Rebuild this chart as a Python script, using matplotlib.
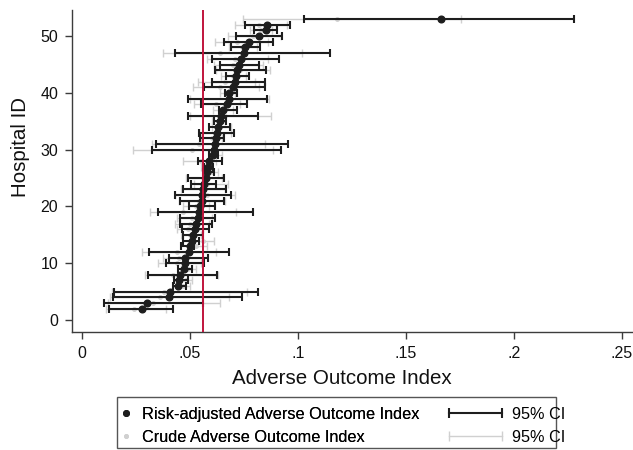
#!/usr/bin/env python3

"""
Hospital adverse outcome index: risk-adjusted vs crude, with 95% CI.
Writes out.png
"""

import numpy as np
import matplotlib

matplotlib.use("Agg")

import matplotlib.pyplot as plt
from matplotlib.lines import Line2D
from matplotlib.patches import Rectangle
from matplotlib.legend_handler import HandlerLine2D

# ============================================================
# Data
# ============================================================

hospital_id = np.arange(2, 54)

adj_index = [
    0.0276, 0.0302, 0.0403, 0.0407, 0.0446, 0.0449, 0.0454, 0.0472,
    0.0477, 0.0478, 0.0495, 0.0500, 0.0508, 0.0516, 0.0521, 0.0530,
    0.0537, 0.0542, 0.0547, 0.0554, 0.0557, 0.0562, 0.0567, 0.0572,
    0.0578, 0.0583, 0.0587, 0.0608, 0.0613, 0.0616, 0.0621, 0.0627,
    0.0632, 0.0640, 0.0644, 0.0655, 0.0671, 0.0679, 0.0682, 0.0697,
    0.0707, 0.0711, 0.0718, 0.0726, 0.0734, 0.0749, 0.0757, 0.0773,
    0.0819, 0.0854, 0.0857, 0.1660,
]
adj_lower = [
    0.0127, 0.0102, 0.0145, 0.0150, 0.0423, 0.0425, 0.0304, 0.0446,
    0.0389, 0.0404, 0.0312, 0.0460, 0.0470, 0.0470, 0.0461, 0.0454,
    0.0454, 0.0353, 0.0496, 0.0454, 0.0432, 0.0466, 0.0505, 0.0489,
    0.0559, 0.0563, 0.0537, 0.0590, 0.0326, 0.0343, 0.0546, 0.0543,
    0.0590, 0.0610, 0.0493, 0.0634, 0.0550, 0.0490, 0.0662, 0.0565,
    0.0603, 0.0668, 0.0614, 0.0638, 0.0600, 0.0430, 0.0688, 0.0658,
    0.0712, 0.0796, 0.0753, 0.1030,
]
adj_upper = [
    0.0423, 0.0562, 0.0739, 0.0816, 0.0480, 0.0490, 0.0623, 0.0508,
    0.0566, 0.0582, 0.0680, 0.0517, 0.0540, 0.0560, 0.0588, 0.0603,
    0.0617, 0.0790, 0.0616, 0.0656, 0.0690, 0.0666, 0.0620, 0.0656,
    0.0610, 0.0608, 0.0648, 0.0630, 0.0921, 0.0955, 0.0657, 0.0705,
    0.0685, 0.0665, 0.0815, 0.0719, 0.0766, 0.0855, 0.0720, 0.0848,
    0.0846, 0.0773, 0.0853, 0.0820, 0.0912, 0.1149, 0.0825, 0.0885,
    0.0928, 0.0901, 0.0963, 0.2278,
]

crude_index = [
    0.0240, 0.0330, 0.0360, 0.0380, 0.0470, 0.0480, 0.0420, 0.0490,
    0.0440, 0.0450, 0.0440, 0.0530, 0.0560, 0.0500, 0.0490, 0.0500,
    0.0510, 0.0470, 0.0530, 0.0540, 0.0580, 0.0550, 0.0580, 0.0560,
    0.0600, 0.0570, 0.0550, 0.0620, 0.0510, 0.0540, 0.0600, 0.0620,
    0.0640, 0.0630, 0.0660, 0.0650, 0.0620, 0.0690, 0.0670, 0.0640,
    0.0660, 0.0700, 0.0730, 0.0700, 0.0710, 0.0640, 0.0740, 0.0720,
    0.0790, 0.0830, 0.0820, 0.1180,
]
crude_lower = [
    0.0110, 0.0120, 0.0130, 0.0137, 0.0440, 0.0450, 0.0292, 0.0460,
    0.0350, 0.0376, 0.0280, 0.0490, 0.0510, 0.0460, 0.0440, 0.0430,
    0.0440, 0.0315, 0.0470, 0.0450, 0.0430, 0.0460, 0.0520, 0.0480,
    0.0570, 0.0550, 0.0470, 0.0600, 0.0236, 0.0323, 0.0550, 0.0540,
    0.0600, 0.0600, 0.0500, 0.0607, 0.0520, 0.0500, 0.0640, 0.0514,
    0.0537, 0.0645, 0.0620, 0.0610, 0.0580, 0.0373, 0.0680, 0.0616,
    0.0676, 0.0780, 0.0708, 0.0746,
]
crude_upper = [
    0.0390, 0.0639, 0.0680, 0.0762, 0.0500, 0.0510, 0.0630, 0.0530,
    0.0550, 0.0560, 0.0620, 0.0580, 0.0610, 0.0550, 0.0560, 0.0590,
    0.0600, 0.0713, 0.0590, 0.0660, 0.0708, 0.0660, 0.0676, 0.0650,
    0.0630, 0.0600, 0.0620, 0.0647, 0.0885, 0.0847, 0.0650, 0.0690,
    0.0690, 0.0660, 0.0873, 0.0700, 0.0730, 0.0866, 0.0710, 0.0820,
    0.0800, 0.0760, 0.0870, 0.0840, 0.0860, 0.1017, 0.0810, 0.0860,
    0.0920, 0.0880, 0.0950, 0.1755,
]

reference_value = 0.0562

x_ticks = [0, 0.05, 0.10, 0.15, 0.20, 0.25]
x_tick_labels = ["0", ".05", ".1", ".15", ".2", ".25"]
y_ticks = [0, 10, 20, 30, 40, 50]

# ============================================================
# Style
# ============================================================

BLACK = "#1e1e1e"
GREY = "#d0d0d0"
RED = "#c0143c"
AXIS = "#3c3c3c"

plt.rcParams["font.family"] = ["Liberation Sans", "DejaVu Sans"]

W, H = 633, 450


def px(x0, y0):
    """pixel (from top-left) -> figure fraction"""
    return x0 / W, 1 - y0 / H


def interval(mid, lo, hi):
    mid = np.asarray(mid)
    return [mid - np.asarray(lo), np.asarray(hi) - mid]


# ============================================================
# Figure
# ============================================================

fig = plt.figure(figsize=(W / 100, H / 100), dpi=100)

ax = fig.add_axes([
    72 / W,
    1 - 332 / H,
    (632 - 72) / W,
    (332 - 10) / H,
])

# crude estimates (behind)
ax.errorbar(
    crude_index,
    hospital_id,
    xerr=interval(crude_index, crude_lower, crude_upper),
    fmt="o",
    color=GREY,
    markersize=2.5,
    elinewidth=1.0,
    capsize=2.6,
    capthick=1.0,
    zorder=2,
)

# risk-adjusted estimates
ax.errorbar(
    adj_index,
    hospital_id,
    xerr=interval(adj_index, adj_lower, adj_upper),
    fmt="o",
    color=BLACK,
    markersize=4.8,
    elinewidth=1.5,
    capsize=2.6,
    capthick=1.5,
    zorder=4,
)

ax.axvline(reference_value, color=RED, linewidth=1.4, zorder=5)

ax.set_xlim(-0.0046, 0.2546)
ax.set_ylim(-2.1, 54.6)

ax.set_xticks(x_ticks)
ax.set_xticklabels(x_tick_labels)
ax.set_yticks(y_ticks)

ax.tick_params(
    direction="out",
    length=5,
    width=1.0,
    color=AXIS,
    labelsize=11.5,
    labelcolor="#111111",
    pad=5,
)

for side in ("top", "right"):
    ax.spines[side].set_visible(False)

for side in ("left", "bottom"):
    ax.spines[side].set_color(AXIS)
    ax.spines[side].set_linewidth(1.0)

ax.set_xlabel("Adverse Outcome Index", fontsize=14.8, color="#111111")
ax.set_ylabel("Hospital ID", fontsize=14.8, color="#111111")
ax.xaxis.set_label_coords(0.482, -0.115)
ax.yaxis.set_label_coords(-0.075, 0.575)

# ============================================================
# Legend
# ============================================================

point_handles = [
    Line2D([], [], linestyle="none", marker="o", markersize=4.0, color=BLACK),
    Line2D([], [], linestyle="none", marker="o", markersize=2.5, color=GREY),
]

ci_handles = [
    Line2D([], [], color=BLACK, linewidth=1.5, marker="|",
           markersize=7, markeredgewidth=1.5),
    Line2D([], [], color=GREY, linewidth=1.0, marker="|",
           markersize=7, markeredgewidth=1.0),
]

LEG_FS = 11.7

leg_points = fig.legend(
    point_handles,
    ["Risk-adjusted Adverse Outcome Index", "Crude Adverse Outcome Index"],
    loc="upper left",
    bbox_to_anchor=px(121, 407),
    frameon=False,
    fontsize=LEG_FS,
    handlelength=0.6,
    handletextpad=0.7,
    borderpad=0,
    borderaxespad=0,
    labelspacing=0.5,
)

ci_handler = HandlerLine2D(numpoints=2, marker_pad=0)

leg_ci = fig.legend(
    ci_handles,
    ["95% CI", "95% CI"],
    loc="upper left",
    bbox_to_anchor=px(449, 407),
    frameon=False,
    fontsize=LEG_FS,
    handlelength=3.25,
    handletextpad=0.6,
    borderpad=0,
    borderaxespad=0,
    labelspacing=0.5,
    handler_map={h: ci_handler for h in ci_handles},
)

fig.add_artist(leg_points)

x0, y1 = px(117, 448)
x1, y0 = px(556, 397)

fig.add_artist(
    Rectangle(
        (x0, y1),
        x1 - x0,
        y0 - y1,
        transform=fig.transFigure,
        fill=False,
        edgecolor="#555555",
        linewidth=1.0,
    )
)

fig.savefig("out.png", dpi=100)
